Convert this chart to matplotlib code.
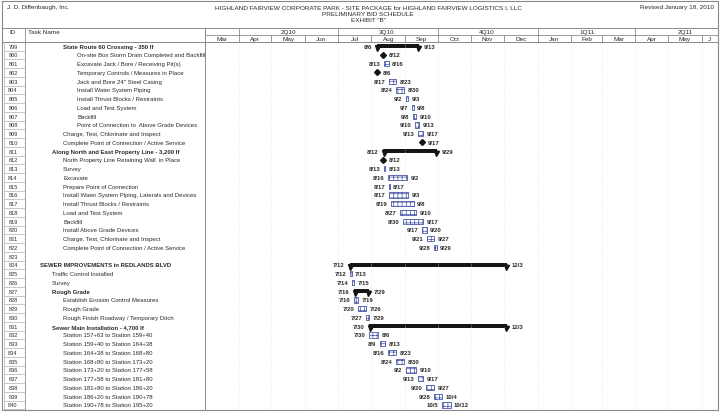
import matplotlib
matplotlib.use("Agg")
import matplotlib.pyplot as plt
import matplotlib.dates as mdates
from datetime import date, timedelta

plt.rcParams['font.family'] = ['Liberation Sans', 'DejaVu Sans']
plt.rcParams['hatch.linewidth'] = 0.5
plt.rcParams['hatch.color'] = '#4656a6'

# schedule data (all 2010)
ids = list(range(799, 841))
names = [
    "State Route 60 Crossing - 350 lf",
    "On-site Box Storm Drain Completed and Backfill",
    "Excavate Jack / Bore / Receiving Pit(s)",
    "Temporary Controls / Measures in Place",
    "Jack and Bore 24\" Steel Casing",
    "Install Water System Piping",
    "Install Thrust Blocks / Restraints",
    "Load and Test System",
    "Backfill",
    "Point of Connection to  Above Grade Devices",
    "Charge, Test, Chlorinate and Inspect",
    "Complete Point of Connection / Active Service",
    "Along North and East Property Line - 3,200 lf",
    "North Property Line Retaining Wall  in Place",
    "Survey",
    "Excavate",
    "Prepare Point of Connection",
    "Install Water System Piping, Laterals and Devices",
    "Install Thrust Blocks / Restraints",
    "Load and Test System",
    "Backfill",
    "Install Above Grade Devices",
    "Charge, Test, Chlorinate and Inspect",
    "Complete Point of Connection / Active Service",
    "",
    "SEWER IMPROVEMENTS in REDLANDS BLVD",
    "Traffic Control Installed",
    "Survey",
    "Rough Grade",
    "Establish Erosion Control Measures",
    "Rough Grade",
    "Rough Finish Roadway / Temporary Ditch",
    "Sewer Main Installation - 4,700 lf",
    "Station 157+63 to Station 159+40",
    "Station 159+40 to Station 164+38",
    "Station 164+38 to Station 168+80",
    "Station 168+80 to Station 173+20",
    "Station 173+20 to Station 177+58",
    "Station 177+58 to Station 181+80",
    "Station 181+80 to Station 186+20",
    "Station 186+20 to Station 190+78",
    "Station 190+78 to Station 195+20",
]
levels = [2, 3, 3, 3, 3, 3, 3, 3, 3, 3, 2, 2,
          1, 2, 2, 2, 2, 2, 2, 2, 2, 2, 2, 2,
          0, 0, 1, 1, 1, 2, 2, 2, 1, 2, 2, 2, 2, 2, 2, 2, 2, 2]
kinds = ["sum", "ms", "task", "ms", "task", "task", "task", "task", "task", "task", "task", "ms",
         "sum", "ms", "task", "task", "task", "task", "task", "task", "task", "task", "task", "task",
         "", "sum", "task", "task", "sum", "task", "task", "task", "sum",
         "task", "task", "task", "task", "task", "task", "task", "task", "task"]
starts = ["8/6", "8/12", "8/13", "8/6", "8/17", "8/24", "9/2", "9/7", "9/8", "9/10", "9/13", "9/17",
          "8/12", "8/12", "8/13", "8/16", "8/17", "8/17", "8/19", "8/27", "8/30", "9/17", "9/21", "9/28",
          "", "7/12", "7/12", "7/14", "7/16", "7/16", "7/20", "7/27", "7/30",
          "7/30", "8/9", "8/16", "8/24", "9/2", "9/13", "9/20", "9/28", "10/5"]
ends = ["9/13", "8/12", "8/16", "8/6", "8/23", "8/30", "9/3", "9/8", "9/10", "9/13", "9/17", "9/17",
        "9/29", "8/12", "8/13", "9/2", "8/17", "9/3", "9/8", "9/10", "9/17", "9/20", "9/27", "9/29",
        "", "12/3", "7/13", "7/15", "7/29", "7/19", "7/26", "7/29", "12/3",
        "8/6", "8/13", "8/23", "8/30", "9/10", "9/17", "9/27", "10/4", "10/12"]
bold_rows = [0, 12, 25, 28, 32]

months = ["Mar", "Apr", "May", "Jun", "Jul", "Aug", "Sep", "Oct", "Nov", "Dec",
          "Jan", "Feb", "Mar", "Apr", "May", "J"]
quarters = ["2Q10", "3Q10", "4Q10", "1Q11", "2Q11"]

BLUE = '#4656a6'
TXT = '#2a2a2a'
LINE = '#8a8a8a'


def d(s):
    m, dd = s.split('/')
    return date(2010, int(m), int(dd))


fig = plt.figure(figsize=(7.2, 4.14), dpi=100)

# background in pixel coords for frame and table
bg = fig.add_axes([0, 0, 1, 1])
bg.set_xlim(0, 720)
bg.set_ylim(414, 0)
bg.axis('off')

bg.plot([2, 718, 718, 2, 2], [2, 2, 411, 411, 2], color=LINE, lw=0.8)
bg.plot([2, 718], [29, 29], color=LINE, lw=0.7)
bg.plot([2, 718], [43, 43], color=LINE, lw=0.7)
bg.plot([25, 25], [29, 411], color=LINE, lw=0.6)
bg.plot([205, 205], [29, 411], color=LINE, lw=0.7)

bg.text(7, 8, "J. D. Diffenbaugh, Inc.", fontsize=4.6, color=TXT, va='center')
bg.text(368, 8, "HIGHLAND FAIRVIEW CORPORATE PARK - SITE PACKAGE for HIGHLAND FAIRVIEW LOGISTICS I, LLC",
        fontsize=4.6, color=TXT, va='center', ha='center')
bg.text(368, 14.5, "PRELIMINARY BID SCHEDULE", fontsize=4.6, color=TXT, va='center', ha='center')
bg.text(368, 21, "EXHIBIT \"B\"", fontsize=4.6, color=TXT, va='center', ha='center')
bg.text(714, 8, "Revised January 18, 2010", fontsize=4.6, color=TXT, va='center', ha='right')
bg.text(13, 33, "ID", fontsize=4.6, color=TXT, va='center', ha='center')
bg.text(28, 33, "Task Name", fontsize=4.6, color=TXT, va='center')

row0, dy = 47.2, 8.75
indent = {0: 40, 1: 52, 2: 63, 3: 77}
for i, (tid, nm, lv) in enumerate(zip(ids, names, levels)):
    y = row0 + i * dy
    bg.plot([4, 25], [y + dy / 2, y + dy / 2], color='#b0b0b0', lw=0.5)
    bg.text(13, y, str(tid), fontsize=4.0, color=TXT, va='center', ha='center')
    bg.text(indent[lv], y, nm, fontsize=4.3, color=TXT, va='center',
            fontweight='bold' if i in bold_rows else 'normal')
bg.plot([4, 4], [43, 411], color='#b0b0b0', lw=0.5)

# gantt axes (dates)
x0 = mdates.date2num(date(2010, 3, 1))
x1 = mdates.date2num(date(2011, 6, 16))
ax = fig.add_axes([205 / 720, 1 - 411 / 414, 513 / 720, (411 - 43) / 414])
ax.set_xlim(x0, x1)
ax.set_ylim((411 - row0) / dy, (43 - row0) / dy)
ax.axis('off')

hx = fig.add_axes([205 / 720, 1 - 43 / 414, 513 / 720, 14 / 414])
hx.set_xlim(x0, x1)
hx.set_ylim(0, 2)
hx.axis('off')
hx.axhline(1, color=LINE, lw=0.6)

mstarts = [date(2010 + (m - 1) // 12, (m - 1) % 12 + 1, 1) for m in range(3, 3 + len(months))]
for k, (ms, lab) in enumerate(zip(mstarts, months)):
    a = mdates.date2num(ms)
    b = mdates.date2num(mstarts[k + 1]) if k + 1 < len(mstarts) else x1
    b = min(b, x1)
    if k > 0:
        top = 2 if ms.month in (1, 4, 7, 10) else 1
        hx.plot([a, a], [0, top], color=LINE, lw=0.6)
        ax.axvline(a, color='#e6e6e6', lw=0.5, ls=':')
    hx.text((a + b) / 2, 0.45, lab, fontsize=4.6, color=TXT, ha='center', va='center')

qstarts = [date(2010, 4, 1), date(2010, 7, 1), date(2010, 10, 1), date(2011, 1, 1), date(2011, 4, 1)]
for qs, lab in zip(qstarts, quarters):
    a = mdates.date2num(qs)
    b = mdates.date2num(qs + timedelta(days=91))
    hx.text((a + b) / 2, 1.45, lab, fontsize=4.6, color=TXT, ha='center', va='center')

lab_kw = dict(fontsize=4.3, fontweight='bold', color=TXT, va='center', textcoords='offset points')
for i, k in enumerate(kinds):
    if not k:
        continue
    s = mdates.date2num(d(starts[i]))
    e = mdates.date2num(d(ends[i])) + 1
    if k == 'task':
        ax.barh(i, e - s, left=s, height=0.6, facecolor='white', edgecolor=BLUE,
                hatch='++++', lw=0.6)
        ax.annotate(starts[i], (s, i), xytext=(-2.5, 0), ha='right', **lab_kw)
        ax.annotate(ends[i], (e, i), xytext=(2.5, 0), ha='left', **lab_kw)
    elif k == 'sum':
        ax.barh(i, e - s, left=s, height=0.4, color='#151515')
        ax.plot([s + 0.6, e - 0.6], [i + 0.2, i + 0.2], 'v', ms=3.6, color='#151515')
        ax.annotate(starts[i], (s, i), xytext=(-3.5, 0), ha='right', **lab_kw)
        ax.annotate(ends[i], (e, i), xytext=(3.5, 0), ha='left', **lab_kw)
    else:
        ax.plot(s, i, 'D', ms=3.0, color='#151515')
        ax.annotate(ends[i], (s, i), xytext=(4, 0), ha='left', **lab_kw)

fig.savefig("out.png", dpi=100)
